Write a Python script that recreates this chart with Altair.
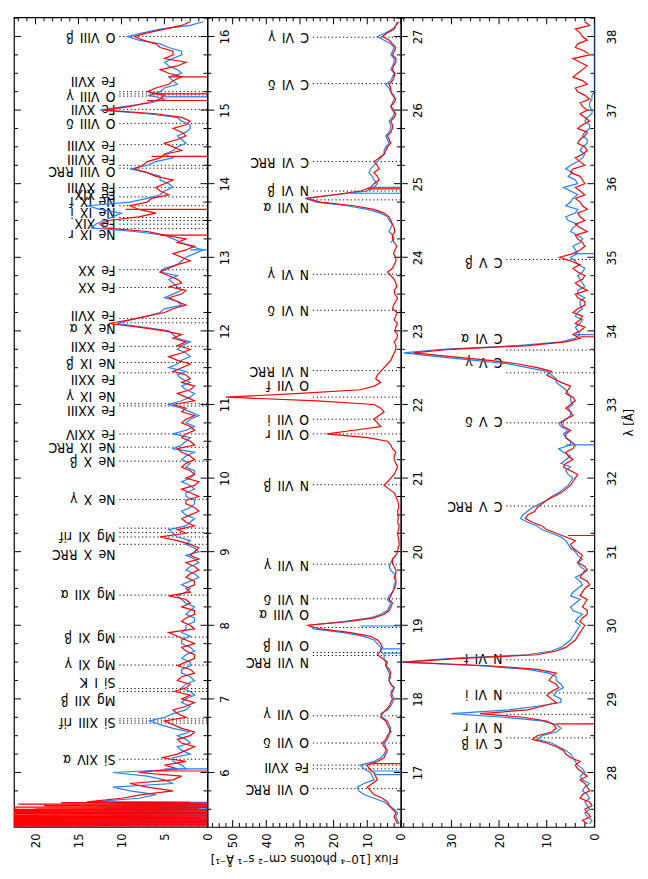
import altair as alt
import numpy as np
import pandas as pd

# ------------------------------------------------------------------ data
LAM_DOMAINS = [[5.26, 16.26], [16.26, 27.26], [27.26, 38.26]]
FLUX_DOMAINS = [[0, 22.5], [0, 57.5], [0, 40.6]]
FLUX_LABELS = [[0, 5, 10, 15, 20], [0, 10, 20, 30, 40, 50], [0, 10, 20, 30]]
FLUX_MINOR_STEP = [1, 2, 2]
LAM_LABELS = [list(range(6, 17)), list(range(17, 28)), list(range(28, 39))]

# spectra: values on a 0.1 A grid (GRID_START + k*0.1) and at the bin mid points (+0.05)
GRID_START = [5.6, 16.3, 27.3]
GRID_STEP = 0.1

RED1 = [14, 7.6, 7, 4, 8, 5, 5.3, 2.5, 3, 2,
        3, 5, 3.5, 2.5, 3, 3.8, 2, 3, 2, 2.5,
        1.5, 3, 2.5, 4.5, 2, 2.5, 1.5, 2, 4.5, 2.5,
        1.5, 2, 1.5, 1, 1.5, 2, 5.5, 3.5, 2.5, 2,
        1.5, 2.5, 2, 1.5, 2.5, 2, 2.5, 2, 3.5, 2,
        2.5, 2, 2.5, 3, 4, 2.5, 2, 3, 2.5, 3,
        3.5, 3, 3.5, 4, 5, 11.5, 7, 4, 3.5, 3,
        4.5, 3.5, 5.5, 3.5, 3, 2.5, 3.5, 5, 12, 11.5,
        6, 9, 6.5, 5.5, 5, 6, 8.5, 7, 5, 4,
        3.5, 3, 2.5, 3, 12, 7, 5, 6, 4, 4.5,
        3.5, 5, 4, 6, 8.5, 5, 2]
RED1_MID = [10, 4, 9, 3, 3.5, 2.5, 3.5, 1.5, 3.5, 1.5,
            4, 2.5, 4, 1.5, 2, 2.5, 3.5, 1.5, 3.5, 1.5,
            2.5, 1.5, 3.5, 1.5, 3, 1.5, 3, 2.5, 2, 1.5,
            2.5, 1, 2.5, 2, 1, 3.5, 2.5, 1.5, 3, 1,
            2.5, 1, 3, 1, 1.5, 3, 1.5, 3, 1.5, 3,
            1.5, 3, 1.5, 2.5, 1.5, 3.5, 1.5, 2, 4, 2,
            4.5, 2, 2.5, 3, 8, 9, 5, 2.5, 4.5, 2.5,
            3, 4.5, 4.5, 2, 4, 1.5, 2.5, 7, 12.5, 8,
            8, 7, 4.5, 6, 4, 7, 7.5, 5.5, 3, 5,
            2.5, 4, 2, 6, 9, 5.5, 7, 4.5, 3, 5.5,
            2.5, 4, 5.5, 7.5, 7, 3]
BLUE1 = [13.4, 6, 11, 5, 11, 3, 4, 3, 2, 3.5,
         4, 6.7, 4, 2, 2.5, 2, 2.5, 2, 3, 2,
         2.5, 2, 3, 3, 2.5, 1.5, 2, 2.5, 3.5, 2,
         2, 1.5, 2, 1.5, 1, 2.5, 3.5, 4.5, 2, 2.5,
         2, 1.5, 2.5, 2, 2, 1.5, 2, 2.5, 4, 2.5,
         4, 1.5, 2, 2, 4.5, 2, 2.5, 2, 3.5, 4.5,
         3, 2.5, 3, 3.5, 4.5, 10.5, 7, 5, 3.5, 4,
         3.5, 4.5, 5.5, 3.5, 2.5, 0.5, 3, 5, 13.5, 12,
         10, 14, 7, 5, 4.5, 5.5, 9, 6, 5, 3.5,
         3, 2.5, 2, 3.5, 12.5, 6.5, 6.8, 5, 4, 3,
         4.5, 4, 3, 5.5, 9.3, 5.5, 0.5]
BLUE1_MID = [8, 9, 4, 7, 2.5, 4, 2, 3.5, 2.5, 2,
             5.5, 5, 2.5, 3, 1.5, 3, 1.5, 3, 2, 3,
             1.5, 3, 2, 2.5, 1.5, 2.5, 1.5, 3, 2.5, 3,
             1, 2.5, 1, 2.5, 1.5, 2, 4, 2.5, 1.5, 3,
             1.5, 2.5, 1.5, 3, 1.5, 2.5, 3, 1.5, 3, 2,
             2.5, 2.5, 1, 3, 3, 1.5, 3, 3, 2.5, 3.5,
             2, 3.5, 2, 4, 7.5, 9, 5.5, 3, 5, 3,
             4, 3.5, 5, 3, 1.5, 2, 4, 8.5, 13, 11,
             12.5, 9, 5.5, 4, 5.5, 7, 7, 4, 4, 2.5,
             3.5, 2, 3, 7, 9.5, 5, 5.5, 3.5, 4.5, 3.5,
             5, 3, 4.5, 8, 7.5, 2]

# noisy short-wavelength edge of panel 1 (5.270 - 5.595 A, 0.005 A bins)
EDGE_START, EDGE_STEP = 5.27, 0.005
EDGE_RED = [30, 0, 28, 1, 30, 0, 26, 2, 30, 0, 29, 0, 25, 1, 30, 0, 27, 3, 30, 0,
            28, 0, 24, 0, 30, 1, 30, 0, 26, 2, 29, 0, 22, 1, 28, 0, 30, 0, 25, 2,
            27, 0, 18, 2, 25, 0, 23, 1, 16, 3, 20, 0, 24, 1, 14, 0, 19, 2, 15, 0,
            22, 1, 12, 0, 17, 2]
EDGE_BLUE = [25, 0, 30, 1, 22, 0, 28, 2, 12, 0, 26, 1, 18, 0, 24, 3, 15, 0, 20, 1,
             30, 0, 22, 2, 8, 0, 16, 1, 12, 0, 9, 2, 11, 0, 24, 1, 14, 0, 20, 2,
             10, 0, 13, 1, 9, 0, 16, 2, 7, 0, 12, 1, 10, 0, 8, 2, 13, 0, 6, 1,
             9, 0, 11, 2, 7, 0]

RED2 = [1, 2, 2.5, 4, 8, 10, 7, 8, 10, 5,
        4, 5.5, 4, 3.5, 4.5, 5.5, 3.5, 2.5, 2.5, 3,
        3.5, 3.5, 4, 7, 5.5, 7, 15, 28, 8, 3.5,
        2.5, 3, 2, 1.5, 1.5, 2, 2.5, 1, 0.5, 0.8,
        0.7, 1, 0.8, 0.6, 1, 2, 5, 3, 1.5, 1.5,
        2, 2.5, 4, 22, 6, 8, 5, 8, 52, 12,
        6, 7, 5, 3, 2, 1.5, 1.2, 1.8, 1, 1.5,
        2.5, 1.5, 1.8, 1.2, 2, 4, 2, 1.5, 1.8, 2,
        2.5, 2, 3, 5, 14, 28, 12, 8, 7, 6.5,
        8, 5, 4, 3.5, 3, 2.5, 2, 2.5, 2, 2.5,
        3, 2.5, 1.8, 2.2, 1.5, 2, 2.5, 5.5, 2, 1]
RED2_MID = [1.5, 1.5, 3.5, 5.5, 9, 8.5, 7.5, 9.5, 7, 4.5,
            5, 4.5, 3, 4, 6, 4.5, 3, 3, 2, 3.5,
            3, 4.5, 5.5, 6, 6, 9, 24, 16, 5, 3,
            3.5, 2.5, 1.5, 2, 1.5, 2.5, 1.5, 0.8, 0.6, 1,
            0.5, 0.8, 1, 0.7, 1.5, 3.5, 4, 2, 1, 2,
            1.5, 3, 10, 14, 7, 6.5, 6, 25, 30, 8,
            7.5, 6, 4, 2.5, 1.5, 2, 1, 1.5, 2, 1.2,
            2.2, 1, 2, 1.5, 3, 2.5, 1.5, 2.2, 1.2, 2.5,
            1.8, 2.5, 3.5, 8, 24, 20, 9, 6.5, 8, 7,
            6.5, 4.5, 3, 4, 2.5, 3, 1.5, 3, 1.5, 3,
            3.5, 2, 2.5, 1.5, 2.5, 1.5, 3.5, 4, 1.5]
BLUE2 = ([0.5, 1.5, 2, 5, 11, 13, 8, 9, 12, 6,
          4.5, 5, 3.5, 3, 4, 6, 3, 2, 3, 3,
          3, 4, 4.5, 5, 6, 8, 17, 27, 9, 4,
          3, 3.5, 2, 1.5, 2, 3.5, 2.5]
         + [None] * 42
         + [3, 2.5, 3, 3.5, 6, 16, 28.5, 10, 7, 8.5,
            9, 7, 5, 4.5, 4, 3.5, 3, 2.5, 2, 2.5,
            2, 3.5, 3, 2, 2.5, 2, 2.5, 3, 7, 2.5, 0.5])
BLUE2_MID = ([1, 1, 3.5, 8, 12.5, 11, 8.5, 11, 8, 5,
              4.5, 4, 3.5, 3.5, 5.5, 4, 2.5, 2.5, 2, 3.5,
              3.5, 4.5, 5, 6, 7, 11, 26, 17, 6, 3.5,
              4, 2.5, 2, 1.5, 3, 3, 1.5]
             + [None] * 42
             + [2, 3.5, 2.5, 4, 10, 25, 19, 8, 8, 9.5,
                8, 6, 5, 3.5, 4.5, 3, 3.5, 2, 3, 2,
                3, 4.5, 2.5, 3, 2, 3, 2, 5, 4.5, 1.5])

RED3 = [1.5, 0.8, 2, 1, 2.5, 1.5, 3, 2.5, 4, 5,
        6.5, 10, 12, 8, 10, 24, 11, 9, 9, 8,
        9, 12, 40, 12, 6, 4, 3, 2, 2.5, 1.5,
        2, 3, 2, 1.5, 2.5, 2, 3, 3.5, 5, 6,
        10, 13, 14, 12, 10, 7, 5, 4, 5, 6,
        5.5, 4.5, 5, 6, 6.5, 6, 5, 5, 4.5, 5.5,
        7, 10, 12, 22, 38, 14, 3, 3, 4, 2.5,
        3.5, 2, 4, 3, 2.5, 3.5, 3, 7.3, 3, 2.5,
        4, 3, 2, 3.5, 2.5, 4, 3, 2, 3, 4.5,
        3, 2.5, 2, 3, 1.5, 2.5, 2, 1.5, 3, 2,
        4, 2.5, 3.5, 1.5, 4.5, 2, 3.5, 2.5, 4, 2]
RED3_MID = [2.5, 1.5, 0.5, 3, 1, 2, 1.5, 3.5, 3, 6,
            8, 13, 9, 8.5, 15, 14, 8, 10, 7.5, 9.5,
            8, 22, 28, 8, 5, 3.5, 2.5, 3, 1.5, 2.5,
            1.5, 2.5, 1, 3, 1.5, 3.5, 2.5, 4.5, 4, 8,
            11, 14.5, 12.5, 11, 8.5, 6, 4.5, 3.5, 6.5, 4.5,
            6, 4, 6, 5, 7, 4.5, 6, 4, 6, 5,
            8.5, 9, 16, 30, 30, 6, 4.5, 2, 3, 4.5,
            2, 3.5, 1.5, 4, 2, 4.5, 5, 4.5, 2, 3.5,
            1.5, 4, 3, 1.5, 3, 2, 4, 2.5, 5, 2,
            4, 1.5, 3.5, 2, 3.5, 1, 3, 2.5, 1, 3.5,
            1.5, 4.5, 2.5, 3, 1, 4, 1.5, 3, 1]
BLUE3 = [1, 1.5, 1, 2, 1.5, 2, 2.5, 2, 3.5, 4.5,
         6, 9, 11, 7, 11, 30, 12, 7, 8, 7,
         8, 14, 40.4, 14, 7, 5, 4, 3, 3.5, 4.5,
         4, 5, 3.5, 3, 2.5, 3, 2.5, 4, 5.5, 7,
         11, 14, 15, 13, 10, 7.5, 5.5, 4.5, 6, 7,
         5, 7.5, 5, 6.5, 7, 6, 5, 4.5, 5, 6,
         8, 9, 14, 25, 40, 16, 4, 3.5, 3, 4,
         2.5, 3, 3.5, 2, 3, 2.5, 3.5, 5, 4, 3,
         3.5, 4.5, 5.5, 4, 6, 4.5, 5, 3.5, 5.5, 6,
         3.5, 2, 2.5, 1.5, 2, 1, 1.5, 0.5, 1, 0.5,
         0, 0, 0, 0, 0, 0, 0, 0, 0, 0]
BLUE3_MID = [0.5, 2, 1.5, 1, 2.5, 1, 3, 2.5, 4, 5,
             7.5, 12, 8, 8, 19, 18, 7, 8.5, 6.5, 8,
             9.5, 24, 30, 9, 6, 4.5, 3.5, 4, 2.5, 5,
             3, 4.5, 2.5, 4, 2, 3.5, 3.5, 5, 6, 9,
             12, 15.5, 14, 11.5, 9, 6.5, 5, 5.5, 5, 6,
             6.5, 5, 6, 5.5, 7.5, 5, 5.5, 5, 5.5, 7,
             8, 10, 18, 33, 32, 7, 3, 4, 2.5, 3.5,
             3, 2, 3.5, 2.5, 3.5, 2, 4, 3.5, 4.5, 2.5,
             5, 3.5, 6, 3.5, 5, 3.5, 6.5, 4, 4.5, 5,
             2.5, 3, 1.5, 2.5, 1, 2, 0.5, 1, 0.5, 0,
             0, 0, 0, 0, 0, 0, 0, 0, 0]

RED = [RED1, RED2, RED3]
RED_MID = [RED1_MID, RED2_MID, RED3_MID]
BLUE = [BLUE1, BLUE2, BLUE3]
BLUE_MID = [BLUE1_MID, BLUE2_MID, BLUE3_MID]
for a, b in zip(RED + BLUE, RED_MID + BLUE_MID):
    assert len(b) == len(a) - 1, (len(a), len(b))
assert len(RED1) == 107 and len(RED2) == 110 and len(RED3) == 110
assert len(BLUE1) == 107 and len(BLUE2) == 110 and len(BLUE3) == 110
assert len(EDGE_RED) == len(EDGE_BLUE) == 66

# single-bin drop-outs (wavelength, flux before the drop)
DROP_RED = [[(13.30, 5.5), (13.65, 9.5), (14.37, 6.5), (15.13, 7), (15.22, 6.5), (15.45, 4.5), (6.02, 6)],
            [(17.12, 9), (24.93, 10)],
            [(28.66, 8), (31.22, 5.5), (33.92, 3)]]
DROP_BLUE = [[(13.10, 2), (15.18, 5), (6.05, 5)],
             [(16.97, 8), (17.02, 8), (18.62, 5), (18.68, 5.5), (18.99, 12), (24.87, 15), (24.95, 9)],
             [(32.45, 6), (33.95, 4), (35.05, 4.5)]]

# line identifications: (label, wavelength of label); dotted lines at LINES
LABELS1 = [("Si XIV α", 6.18), ("Si XIII rif", 6.68), ("Mg XII β", 6.99), ("Si I K", 7.23),
           ("Mg XI γ", 7.47), ("Mg XI β", 7.84), ("Mg XII α", 8.42), ("Ne X RRC", 8.97),
           ("Mg XI rif", 9.21), ("Ne X γ", 9.71), ("Ne X β", 10.23), ("Ne IX RRC", 10.42),
           ("Fe XXIV", 10.60), ("Fe XXIII", 10.92), ("Ne IX γ", 11.12), ("Fe XXII", 11.35),
           ("Ne IX β", 11.57), ("Fe XXII", 11.79), ("Ne X α", 12.04), ("Fe XVII", 12.22),
           ("Fe XX", 12.59), ("Fe XX", 12.83), ("Ne IX r", 13.31), ("Fe XIX", 13.47),
           ("Ne IX i", 13.61), ("Ne IX f", 13.77), ("Fe XIX", 13.86), ("Fe XVIII", 13.95),
           ("O VIII RRC", 14.17), ("Fe XVIII", 14.34), ("Fe XVIII", 14.53), ("O VIII δ", 14.82),
           ("Fe XVII", 15.01), ("O VIII γ", 15.19), ("Fe XVII", 15.39), ("O VIII β", 16.00)]
LINES1 = [6.18, 6.67, 6.70, 6.73, 7.10, 7.14, 7.46, 7.84, 8.41, 9.10, 9.20, 9.26, 9.32, 9.71,
          10.23, 10.42, 10.60, 10.98, 11.01, 11.43, 11.57, 11.79, 12.11, 12.17, 12.59, 12.83,
          13.39, 13.45, 13.50, 13.54, 13.70, 13.82, 13.95, 14.21, 14.25, 14.53, 14.82, 15.01,
          15.19, 15.22, 15.25, 16.00]
LABELS2 = [("O VII RRC", 16.78), ("Fe XVII", 17.07), ("O VII δ", 17.41), ("O VII γ", 17.79),
           ("N VII RRC", 18.50), ("O VII β", 18.73), ("O VIII α", 19.16), ("N VII δ", 19.36),
           ("N VII γ", 19.82), ("N VII β", 20.91), ("O VII r", 21.60), ("O VII i", 21.80),
           ("O VII f", 22.26), ("N VI RRC", 22.46), ("N VI δ", 23.28), ("N VI γ", 23.78),
           ("N VII α", 24.68), ("N VI β", 24.92), ("C VI RRC", 25.30), ("C VI δ", 26.35),
           ("C VI γ", 26.99)]
LINES2 = [16.78, 17.05, 17.10, 17.40, 17.77, 18.59, 18.63, 18.97, 19.36, 19.83, 20.91, 21.60,
          21.80, 22.10, 22.46, 23.28, 23.77, 24.78, 24.90, 25.30, 26.36, 26.99]
LABELS3 = [("C VI β", 28.40), ("N VI r", 28.62), ("N VI i", 29.07), ("N VI f", 29.56),
           ("C V RRC", 31.62), ("C V δ", 32.77), ("C V γ", 33.58), ("C VI α", 33.90),
           ("C V β", 34.93)]
LINES3 = [28.47, 28.79, 29.08, 29.53, 31.62, 32.75, 33.43, 33.74, 34.97]
LABELS = [LABELS1, LABELS2, LABELS3]
LINES = [LINES1, LINES2, LINES3]

# ------------------------------------------------------------------ style
FONT = "Liberation Sans Narrow, DejaVu Sans Condensed, Liberation Sans, Arial, sans-serif"
SP = "\u2002"
W, H = 195, 816
MAJ, MIN = 7, 4
BLUE_C, RED_C = "#1f80ff", "#ff0000"
LABEL_FLUX_FRAC = 0.475   # label anchor, as a fraction of the flux range
DOT_FLUX_FRAC = 0.455
FLUX_TITLE = "Flux [10⁻⁴ photons cm⁻² s⁻¹ Å⁻¹]"


def series_df(i, arr, mid, edge=None):
    pts = []
    if edge is not None:
        for k, v in enumerate(edge):
            pts.append((round(EDGE_START + EDGE_STEP * k, 4), v))
    for k, v in enumerate(arr):
        lam = GRID_START[i] + GRID_STEP * k
        pts.append((round(lam, 3), v))
        if k < len(mid):
            pts.append((round(lam + GRID_STEP / 2, 3), mid[k]))
    rows, seg, broken, idx = [], 0, False, 0
    for lam, v in pts:
        if v is None:
            broken = True
            continue
        if broken:
            seg += 1
            broken = False
        rows.append(dict(lam=lam, flux=v, seg=seg, idx=idx))
        idx += 1
    return pd.DataFrame(rows)


def make_panel(i):
    lo, hi = LAM_DOMAINS[i]
    fmax = FLUX_DOMAINS[i][1]
    xs = alt.Scale(domain=FLUX_DOMAINS[i], reverse=True, nice=False, zero=False)
    ys = alt.Scale(domain=LAM_DOMAINS[i], nice=False, zero=False)
    xkw = dict(orient="bottom", values=FLUX_LABELS[i], labelAngle=270, labelAlign="right",
               labelBaseline="middle", labelPadding=6, ticks=False, tickSize=0, domain=False,
               grid=False, labelFlush=False, labelOverlap=False, labelFont=FONT,
               labelFontSize=13, labelColor="black")
    if i == 1:
        xkw.update(title=FLUX_TITLE, titleAngle=180, titleBaseline="bottom", titleFont=FONT,
                   titleFontSize=13, titleFontWeight="normal", titlePadding=4, titleColor="black")
    else:
        xkw["title"] = None
    ykw = dict(orient="right", values=LAM_LABELS[i], labelAngle=270, labelAlign="center",
               labelBaseline="top", labelPadding=11, ticks=False, tickSize=0, domain=False,
               grid=False, labelFlush=False, labelOverlap=False, labelFont=FONT,
               labelFontSize=13, labelColor="black", format="d")
    if i == 2:
        ykw.update(title="λ [Å]", titleAngle=270, titleBaseline="top", titleFont=FONT,
                   titleFontSize=13, titleFontWeight="normal", titlePadding=4, titleColor="black")
    else:
        ykw["title"] = None
    xax = alt.Axis(**xkw)
    yax = alt.Axis(**ykw)

    def X(f):
        return alt.X(f, type="quantitative", scale=xs, axis=xax)

    def Y(f):
        return alt.Y(f, type="quantitative", scale=ys, axis=yax)

    layers = []
    # wavelength ticks (inward, on both long borders)
    q = np.arange(np.ceil(lo * 4), np.floor(hi * 4) + 1) / 4.0
    major = pd.DataFrame({"lam": [v for v in q if abs(v - round(v)) < 1e-9]})
    minor = pd.DataFrame({"lam": [v for v in q if abs(v - round(v)) >= 1e-9]})
    for df, L in ((major, MAJ), (minor, MIN)):
        layers.append(alt.Chart(df).mark_rule(color="black", strokeWidth=1).encode(
            y=Y("lam"), x=alt.value(0), x2=alt.value(L)))
        layers.append(alt.Chart(df).mark_rule(color="black", strokeWidth=1).encode(
            y=Y("lam"), x=alt.value(W - L), x2=alt.value(W)))
    # flux ticks (inward, top and bottom borders)
    st = FLUX_MINOR_STEP[i]
    fv = np.arange(0, fmax + 1e-9, st)
    fmaj = pd.DataFrame({"f": [v for v in fv if v in FLUX_LABELS[i]]})
    fmin = pd.DataFrame({"f": [v for v in fv if v not in FLUX_LABELS[i]]})
    for df, L in ((fmaj, MAJ), (fmin, MIN)):
        layers.append(alt.Chart(df).mark_rule(color="black", strokeWidth=1).encode(
            x=X("f"), y=alt.value(0), y2=alt.value(L)))
        layers.append(alt.Chart(df).mark_rule(color="black", strokeWidth=1).encode(
            x=X("f"), y=alt.value(H - L), y2=alt.value(H)))
    # dotted identification lines
    dots = pd.DataFrame({"lam": LINES[i], "start": fmax * DOT_FLUX_FRAC, "zero": 0.0})
    layers.append(alt.Chart(dots).mark_rule(color="black", strokeWidth=1,
                                            strokeDash=[1.2, 2.6]).encode(
        y=Y("lam"), x=X("start"), x2=alt.X2("zero")))
    # labels
    lab = pd.DataFrame({"label": [t.replace(" ", SP) for t, _ in LABELS[i]],
                        "lam": [l for _, l in LABELS[i]],
                        "ax": fmax * LABEL_FLUX_FRAC})
    layers.append(alt.Chart(lab).mark_text(angle=180, align="left", baseline="middle",
                                           font=FONT, fontSize=14, color="black").encode(
        y=Y("lam"), x=X("ax"), text="label:N"))
    # spectra
    bdf = series_df(i, BLUE[i], BLUE_MID[i], EDGE_BLUE if i == 0 else None)
    rdf = series_df(i, RED[i], RED_MID[i], EDGE_RED if i == 0 else None)
    layers.append(alt.Chart(bdf).mark_line(color=BLUE_C, strokeWidth=1.2, clip=True).encode(
        x=X("flux"), y=Y("lam"), detail="seg:N", order="idx:Q"))
    layers.append(alt.Chart(rdf).mark_line(color=RED_C, strokeWidth=1.2, clip=True).encode(
        x=X("flux"), y=Y("lam"), detail="seg:N", order="idx:Q"))
    # drop-outs
    for drops, col in ((DROP_BLUE[i], BLUE_C), (DROP_RED[i], RED_C)):
        ddf = pd.DataFrame({"lam": [a for a, _ in drops], "top": [b for _, b in drops], "zero": 0.0})
        layers.append(alt.Chart(ddf).mark_rule(color=col, strokeWidth=1.2, clip=True).encode(
            y=Y("lam"), x=X("top"), x2=alt.X2("zero")))
    return alt.layer(*layers).properties(width=W, height=H)


chart = alt.hconcat(make_panel(0), make_panel(1), make_panel(2), spacing=0, bounds="flush") \
    .properties(padding={"left": 4, "top": 4, "right": 4, "bottom": 4}) \
    .configure_view(stroke="black", strokeWidth=1.2)

chart.save("out.html", embed_options={"renderer": "svg", "actions": False})
